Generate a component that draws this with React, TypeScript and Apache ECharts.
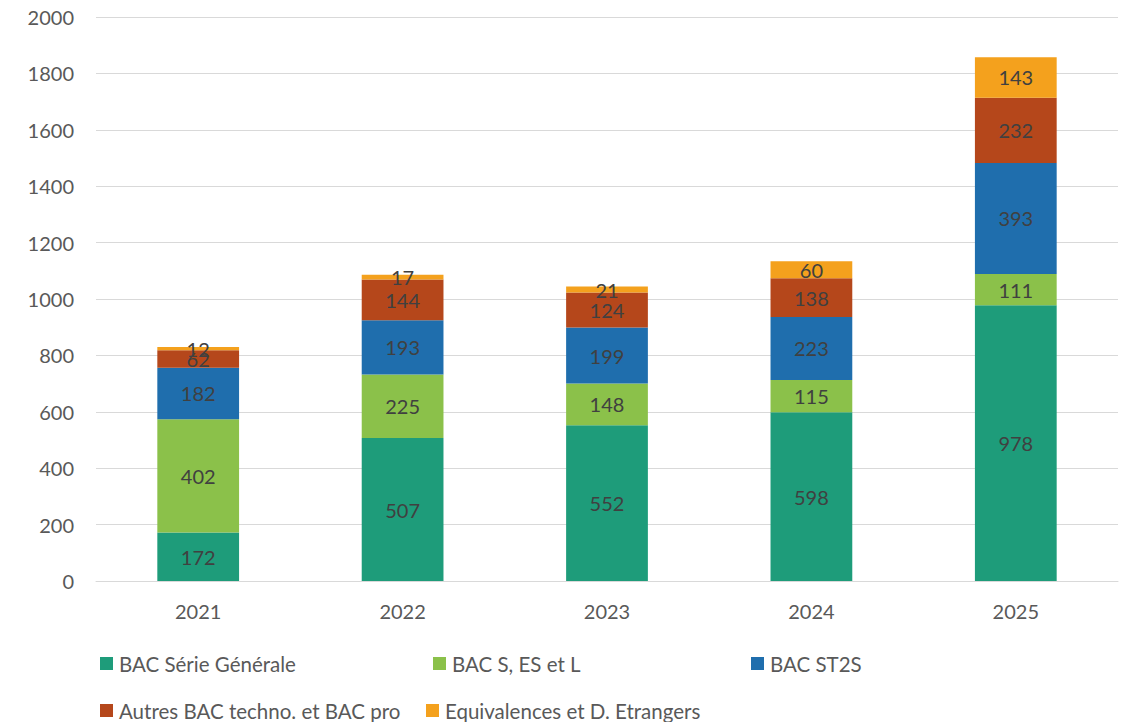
import React, { useEffect, useRef } from "react";
import * as echarts from "echarts";

const years = ["2021", "2022", "2023", "2024", "2025"];
const serieGenerale = [172, 507, 552, 598, 978];
const bacSESL = [402, 225, 148, 115, 111];
const bacST2S = [182, 193, 199, 223, 393];
const autresBac = [62, 144, 124, 138, 232];
const equivalences = [12, 17, 21, 60, 143];

const names = [
  "BAC Série Générale",
  "BAC S, ES et L",
  "BAC ST2S",
  "Autres BAC techno. et BAC pro",
  "Equivalences et D. Etrangers",
];
const colors = ["#1E9C7A", "#8BC14A", "#1F6EAD", "#B5471B", "#F4A11D"];
const seriesData = [serieGenerale, bacSESL, bacST2S, autresBac, equivalences];

const FONT = "Lato, 'Open Sans', sans-serif";

export default function App() {
  const ref = useRef<HTMLDivElement>(null);
  useEffect(() => {
    if (!ref.current) return;
    const chart = echarts.init(ref.current, null, { renderer: "svg" });
    const legendPos = [
      { left: 100, top: 653 },
      { left: 433, top: 653 },
      { left: 751, top: 653 },
      { left: 100, top: 700 },
      { left: 426, top: 700 },
    ];
    chart.setOption({
      animation: false,
      textStyle: { fontFamily: FONT },
      grid: { left: 96, right: 9, top: 17, bottom: 141, containLabel: false },
      legend: names.map((n, i) => ({
        data: [n],
        left: legendPos[i].left,
        top: legendPos[i].top,
        padding: 0,
        icon: "rect",
        itemWidth: 13,
        itemHeight: 13,
        itemGap: 4,
        textStyle: { fontFamily: FONT, fontSize: 20.5, color: "#595959", padding: [0, 0, 0, 1] },
        selectedMode: false,
      })),
      xAxis: {
        type: "category",
        data: years,
        axisLine: { lineStyle: { color: "#D9D9D9", width: 1 } },
        axisTick: { show: false },
        axisLabel: { fontFamily: FONT, fontSize: 20, color: "#595959", margin: 20 },
      },
      yAxis: {
        type: "value",
        min: 0,
        max: 2000,
        interval: 200,
        axisLine: { show: false },
        axisTick: { show: false },
        splitLine: { lineStyle: { color: "#D9D9D9", width: 1 } },
        axisLabel: {
          fontFamily: FONT,
          fontSize: 20,
          color: "#595959",
          margin: 22,
          formatter: (v: number) => String(v),
        },
      },
      series: names.map((n, i) => ({
        name: n,
        type: "bar",
        stack: "total",
        barWidth: "40%",
        data: seriesData[i],
        itemStyle: { color: colors[i] },
        label: {
          show: true,
          position: "inside",
          fontFamily: FONT,
          fontSize: 20,
          color: "#404040",
        },
      })),
    });
    return () => chart.dispose();
  }, []);
  return <div ref={ref} style={{ width: 1127, height: 722, position: "absolute", left: 0, top: 0 }} />;
}
